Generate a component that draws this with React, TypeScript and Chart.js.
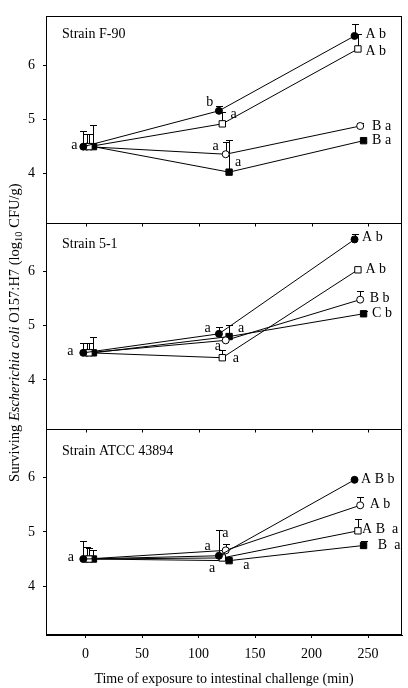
import React, { useEffect, useRef } from 'react';
import { Chart, registerables } from 'chart.js';

Chart.register(...registerables);

// ---------------- data ----------------
const X_TICKS = [0, 50, 100, 150, 200, 250];
const Y_TICKS = [4, 5, 6];
const PANEL_NAMES = ['Strain F-90', 'Strain 5-1', 'Strain ATCC 43894'];

// sampling times (min), slightly staggered per series in the original figure
const X_FILLED_CIRCLE = [-2, 118, 238];
const X_OPEN_SQUARE = [3, 121, 241];
const X_OPEN_CIRCLE = [1, 124, 243];
const X_FILLED_SQUARE = [7, 127, 246];

// Strain F-90
const F90_FILLED_CIRCLE = [4.5, 5.16, 6.54];
const F90_FILLED_CIRCLE_ERR = [4.79, 5.25, 6.76];
const F90_OPEN_SQUARE = [4.5, 4.92, 6.3];
const F90_OPEN_SQUARE_ERR = [4.73, 5.14, 6.57];
const F90_OPEN_CIRCLE = [4.5, 4.36, 4.88];
const F90_OPEN_CIRCLE_ERR = [4.73, 4.58, 4.94];
const F90_FILLED_SQUARE = [4.5, 4.03, 4.61];
const F90_FILLED_SQUARE_ERR = [4.89, 4.62, null];

// Strain 5-1
const S51_FILLED_CIRCLE = [4.5, 4.85, 6.59];
const S51_FILLED_CIRCLE_ERR = [4.68, 4.97, 6.69];
const S51_OPEN_SQUARE = [4.5, 4.41, 6.03];
const S51_OPEN_SQUARE_ERR = [4.68, 4.56, null];
const S51_OPEN_CIRCLE = [4.5, 4.73, 5.48];
const S51_OPEN_CIRCLE_ERR = [4.68, null, 5.64];
const S51_FILLED_SQUARE = [4.5, 4.8, 5.22];
const S51_FILLED_SQUARE_ERR = [4.79, 5.02, 5.27];

// Strain ATCC 43894
const ATCC_FILLED_CIRCLE = [4.5, 4.56, 5.96];
const ATCC_FILLED_CIRCLE_ERR = [4.84, 5.03, null];
const ATCC_OPEN_SQUARE = [4.5, 4.52, 5.02];
const ATCC_OPEN_SQUARE_ERR = [4.7, null, 5.23];
const ATCC_OPEN_CIRCLE = [4.5, 4.66, 5.49];
const ATCC_OPEN_CIRCLE_ERR = [4.72, 4.77, 5.64];
const ATCC_FILLED_SQUARE = [4.5, 4.47, 4.75];
const ATCC_FILLED_SQUARE_ERR = [4.66, null, 4.83];

// significance letters: [text, x (min), y (log CFU/g), align]
const F90_LETTERS: [string, number, number, string][] = [
  ['a', -10, 4.52, 'center'],
  ['b', 110, 5.32, 'center'],
  ['a', 131, 5.09, 'center'],
  ['a', 115, 4.5, 'center'],
  ['a', 135, 4.21, 'center'],
  ['A b', 247.6, 6.57, 'left'],
  ['A b', 247.6, 6.25, 'left'],
  ['B a', 253.5, 4.88, 'left'],
  ['B a', 253.5, 4.61, 'left'],
];
const S51_LETTERS: [string, number, number, string][] = [
  ['a', -13.5, 4.52, 'center'],
  ['a', 108, 4.96, 'center'],
  ['a', 137.6, 4.96, 'center'],
  ['a', 117, 4.62, 'center'],
  ['a', 133, 4.4, 'center'],
  ['A b', 244.7, 6.63, 'left'],
  ['A b', 247.6, 6.03, 'left'],
  ['B b', 251.4, 5.5, 'left'],
  ['C b', 253.5, 5.22, 'left'],
];
const ATCC_LETTERS: [string, number, number, string][] = [
  ['a', -12.9, 4.54, 'center'],
  ['a', 123.7, 4.98, 'center'],
  ['a', 108, 4.73, 'center'],
  ['a', 111.9, 4.32, 'center'],
  ['a', 142.3, 4.38, 'center'],
  ['A B b', 243.8, 5.97, 'left'],
  ['A b', 251.4, 5.5, 'left'],
  ['A B  a', 244.7, 5.04, 'left'],
  ['B  a', 258.6, 4.75, 'left'],
];

// ---------------- styling / layout ----------------
const FONT = "'Liberation Serif', 'Times New Roman', serif";
const W = 408;
const H = 688;
const Y_AXES = ['y1', 'y2', 'y3'];
const STRAIN_LABEL_Y = [6.5, 6.43, 6.42];

type SeriesStyle = { style: string; fill: string; radius: number };
const FILLED_CIRCLE: SeriesStyle = { style: 'circle', fill: '#000', radius: 3.5 };
const OPEN_CIRCLE: SeriesStyle = { style: 'circle', fill: '#fff', radius: 3.5 };
const OPEN_SQUARE: SeriesStyle = { style: 'rect', fill: '#fff', radius: 4.5 };
const FILLED_SQUARE: SeriesStyle = { style: 'rect', fill: '#000', radius: 4.5 };

function ds(xs: number[], ys: number[], err: (number | null)[], st: SeriesStyle, axis: string) {
  return {
    data: xs.map((x, i) => ({ x, y: ys[i] })),
    errHi: err,
    yAxisID: axis,
    borderColor: '#000',
    borderWidth: 1,
    pointStyle: st.style,
    pointRadius: st.radius,
    pointBackgroundColor: st.fill,
    pointBorderColor: '#000',
    pointBorderWidth: 1,
    showLine: true,
    fill: false,
    tension: 0,
  };
}

const LETTERS = [F90_LETTERS, S51_LETTERS, ATCC_LETTERS];

const errorBarPlugin = {
  id: 'errorBars',
  beforeDatasetsDraw(chart: any) {
    const { ctx } = chart;
    ctx.save();
    ctx.strokeStyle = '#000';
    ctx.lineWidth = 1;
    chart.data.datasets.forEach((d: any, di: number) => {
      const meta = chart.getDatasetMeta(di);
      const ys = chart.scales[d.yAxisID];
      meta.data.forEach((pt: any, i: number) => {
        const e = d.errHi[i];
        if (e == null) return;
        const top = ys.getPixelForValue(e);
        const x = Math.round(pt.x) + 0.5;
        const yt = Math.round(top) + 0.5;
        ctx.beginPath();
        ctx.moveTo(x, pt.y);
        ctx.lineTo(x, yt);
        ctx.moveTo(x - 3.5, yt);
        ctx.lineTo(x + 3.5, yt);
        ctx.stroke();
      });
    });
    ctx.restore();
  },
};

const framePlugin = {
  id: 'frames',
  afterDraw(chart: any) {
    const { ctx, chartArea } = chart;
    const xs = chart.scales.x;
    ctx.save();
    ctx.strokeStyle = '#000';
    ctx.lineWidth = 1;
    const l = Math.round(chartArea.left) + 0.5;
    const r = Math.round(chartArea.right) - 0.5;
    const t = Math.round(chartArea.top) + 0.5;
    const b = Math.round(chartArea.bottom) - 0.5;
    ctx.strokeRect(l, t, r - l, b - t);
    // panel dividers with downward tick marks
    ['y2', 'y3'].forEach((id) => {
      const y = Math.round(chart.scales[id].top) + 0.5;
      ctx.beginPath();
      ctx.moveTo(l, y);
      ctx.lineTo(r, y);
      X_TICKS.forEach((v) => {
        const px = Math.round(xs.getPixelForValue(v)) + 0.5;
        ctx.moveTo(px, y);
        ctx.lineTo(px, y + 3);
      });
      ctx.stroke();
    });

    // strain labels and significance letters
    ctx.fillStyle = '#000';
    ctx.font = `14px ${FONT}`;
    Y_AXES.forEach((id, p) => {
      const ys = chart.scales[id];
      ctx.textAlign = 'left';
      ctx.textBaseline = 'alphabetic';
      ctx.fillText(PANEL_NAMES[p], chartArea.left + 16, ys.getPixelForValue(STRAIN_LABEL_Y[p]));
      ctx.textBaseline = 'middle';
      LETTERS[p].forEach(([txt, x, y, align]) => {
        ctx.textAlign = align as CanvasTextAlign;
        ctx.fillText(txt, xs.getPixelForValue(x), ys.getPixelForValue(y));
      });
    });

    // y-axis title with italic species name and subscript
    const segs: [string, string, number][] = [
      ['Surviving ', `14.5px ${FONT}`, 0],
      ['Escherichia coli', `italic 14.5px ${FONT}`, 0],
      [' O157:H7 (log', `14.5px ${FONT}`, 0],
      ['10', `10.5px ${FONT}`, 3],
      [' CFU/g)', `14.5px ${FONT}`, 0],
    ];
    let total = 0;
    const widths = segs.map(([s, f]) => {
      ctx.font = f;
      const w = ctx.measureText(s).width;
      total += w;
      return w;
    });
    ctx.translate(19, (chartArea.top + chartArea.bottom) / 2 + 7);
    ctx.rotate(-Math.PI / 2);
    ctx.textAlign = 'left';
    ctx.textBaseline = 'alphabetic';
    let cx = -total / 2;
    segs.forEach(([s, f, dy], i) => {
      ctx.font = f;
      ctx.fillText(s, cx, dy);
      cx += widths[i];
    });
    ctx.restore();
  },
};

function yScale(weight: number) {
  return {
    type: 'linear',
    position: 'left',
    stack: 'panels',
    stackWeight: 1,
    weight,
    min: 3.1,
    max: 6.9,
    afterBuildTicks: (s: any) => {
      s.ticks = Y_TICKS.map((v) => ({ value: v }));
    },
    afterFit: (s: any) => {
      s.width = 46;
    },
    ticks: {
      color: '#000',
      padding: 8,
      font: { family: FONT, size: 14 },
      callback: (v: any) => String(v),
    },
    grid: { drawOnChartArea: false, drawTicks: true, tickLength: 3, color: '#000' },
    border: { display: true, color: '#000', width: 1 },
  };
}

export default function App() {
  const ref = useRef<HTMLCanvasElement>(null);
  useEffect(() => {
    if (!ref.current) return;
    const datasets = [
      ds(X_FILLED_CIRCLE, F90_FILLED_CIRCLE, F90_FILLED_CIRCLE_ERR, FILLED_CIRCLE, 'y1'),
      ds(X_OPEN_SQUARE, F90_OPEN_SQUARE, F90_OPEN_SQUARE_ERR, OPEN_SQUARE, 'y1'),
      ds(X_OPEN_CIRCLE, F90_OPEN_CIRCLE, F90_OPEN_CIRCLE_ERR, OPEN_CIRCLE, 'y1'),
      ds(X_FILLED_SQUARE, F90_FILLED_SQUARE, F90_FILLED_SQUARE_ERR, FILLED_SQUARE, 'y1'),
      ds(X_FILLED_CIRCLE, S51_FILLED_CIRCLE, S51_FILLED_CIRCLE_ERR, FILLED_CIRCLE, 'y2'),
      ds(X_OPEN_SQUARE, S51_OPEN_SQUARE, S51_OPEN_SQUARE_ERR, OPEN_SQUARE, 'y2'),
      ds(X_OPEN_CIRCLE, S51_OPEN_CIRCLE, S51_OPEN_CIRCLE_ERR, OPEN_CIRCLE, 'y2'),
      ds(X_FILLED_SQUARE, S51_FILLED_SQUARE, S51_FILLED_SQUARE_ERR, FILLED_SQUARE, 'y2'),
      ds(X_FILLED_CIRCLE, ATCC_FILLED_CIRCLE, ATCC_FILLED_CIRCLE_ERR, FILLED_CIRCLE, 'y3'),
      ds(X_OPEN_SQUARE, ATCC_OPEN_SQUARE, ATCC_OPEN_SQUARE_ERR, OPEN_SQUARE, 'y3'),
      ds(X_OPEN_CIRCLE, ATCC_OPEN_CIRCLE, ATCC_OPEN_CIRCLE_ERR, OPEN_CIRCLE, 'y3'),
      ds(X_FILLED_SQUARE, ATCC_FILLED_SQUARE, ATCC_FILLED_SQUARE_ERR, FILLED_SQUARE, 'y3'),
    ];
    const chart = new Chart(ref.current, {
      type: 'scatter',
      data: { datasets } as any,
      options: {
        animation: false,
        responsive: false,
        devicePixelRatio: 1,
        layout: { padding: { top: 7, right: 6, left: 0, bottom: 0 } },
        plugins: { legend: { display: false }, tooltip: { enabled: false } },
        events: [],
        scales: {
          x: {
            type: 'linear',
            position: 'bottom',
            min: -35,
            max: 280,
            afterBuildTicks: (s: any) => {
              s.ticks = X_TICKS.map((v) => ({ value: v }));
            },
            afterFit: (s: any) => {
              s.height = 53;
            },
            ticks: { color: '#000', padding: 8, maxRotation: 0, font: { family: FONT, size: 14 } },
            grid: { drawOnChartArea: false, drawTicks: true, tickLength: 3, color: '#000' },
            border: { display: true, color: '#000', width: 1 },
            title: {
              display: true,
              text: 'Time of exposure to intestinal challenge (min)',
              color: '#000',
              font: { family: FONT, size: 14 },
              padding: { top: 0, bottom: 0 },
            },
          },
          y1: yScale(3),
          y2: yScale(2),
          y3: yScale(1),
        } as any,
      },
      plugins: [errorBarPlugin, framePlugin],
    });
    return () => chart.destroy();
  }, []);
  return (
    <div style={{ position: 'absolute', left: 0, top: 0, width: W, height: H, background: '#fff' }}>
      <canvas ref={ref} width={W} height={H} style={{ display: 'block' }} />
    </div>
  );
}
